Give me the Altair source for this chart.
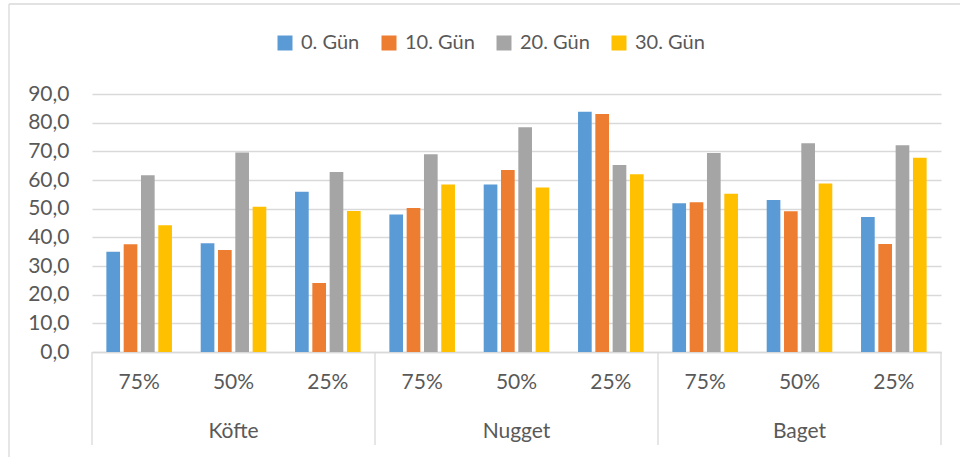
import altair as alt
import pandas as pd

groups = ["Köfte", "Nugget", "Baget"]
subs = ["75%", "50%", "25%"]
series = ["0. Gün", "10. Gün", "20. Gün", "30. Gün"]
colors = ["#5B9BD5", "#ED7D31", "#A5A5A5", "#FFC000"]

gun0 = [35.0, 37.9, 55.9, 48.0, 58.4, 83.8, 51.9, 53.0, 47.1]
gun10 = [37.6, 35.6, 24.1, 50.2, 63.5, 83.0, 52.2, 49.1, 37.7]
gun20 = [61.7, 69.6, 62.8, 69.0, 78.4, 65.2, 69.4, 72.8, 72.1]
gun30 = [44.2, 50.7, 49.2, 58.4, 57.4, 62.0, 55.2, 58.8, 67.8]
y_ticks = [0, 10, 20, 30, 40, 50, 60, 70, 80, 90]

cats = [f"{g}|{s}" for g in groups for s in subs]
rows = []
for name, vals in zip(series, [gun0, gun10, gun20, gun30]):
    for c, v in zip(cats, vals):
        rows.append({"cat": c, "series": name, "value": v})
df = pd.DataFrame(rows)

FONT = "Lato"
TXT = "#595959"
GRID = "#D9D9D9"
W, H = 849, 258

xscale = alt.Scale(domain=cats, paddingInner=0, paddingOuter=0)

bars = alt.Chart(df).mark_bar().encode(
    x=alt.X("cat:N", scale=xscale, sort=cats, title=None,
            axis=alt.Axis(labelExpr="split(datum.label, '|')[1]", labelAngle=0,
                          labelFont=FONT, labelFontSize=21, labelColor=TXT,
                          labelPadding=19, ticks=False, domainColor=GRID,
                          domainWidth=1.3, grid=False)),
    xOffset=alt.XOffset("series:N", sort=series,
                        scale=alt.Scale(paddingInner=0.21, paddingOuter=0.83)),
    y=alt.Y("value:Q", scale=alt.Scale(domain=[0, 90], nice=False), title=None,
            axis=alt.Axis(values=y_ticks,
                          labelExpr="replace(format(datum.value, '.1f'), '.', ',')",
                          labelFont=FONT, labelFontSize=21, labelColor=TXT,
                          labelPadding=23, ticks=False, domain=False,
                          gridColor=GRID, gridWidth=1.3)),
    color=alt.Color("series:N", sort=series,
                    scale=alt.Scale(domain=series, range=colors),
                    legend=alt.Legend(orient="none", legendX=183, legendY=-61,
                                      direction="horizontal", title=None,
                                      symbolType="square", symbolSize=225,
                                      symbolStrokeWidth=0, labelFont=FONT,
                                      labelFontSize=20, labelColor=TXT,
                                      labelOffset=6, columnPadding=19)),
)

gdf = pd.DataFrame({"cat": [f"{g}|{subs[1]}" for g in groups], "label": groups})
glabels = alt.Chart(gdf).mark_text(font=FONT, fontSize=21, color=TXT, baseline="middle").encode(
    x=alt.X("cat:N", scale=xscale, sort=cats),
    y=alt.value(338),
    text="label:N",
)

sdf_left = pd.DataFrame({"cat": [f"{g}|{subs[0]}" for g in groups]})
sep_left = alt.Chart(sdf_left).mark_rule(color=GRID, strokeWidth=1.3).encode(
    x=alt.X("cat:N", scale=xscale, sort=cats, bandPosition=0),
    y=alt.value(258), y2=alt.value(351),
)
sdf_right = pd.DataFrame({"cat": [cats[-1]]})
sep_right = alt.Chart(sdf_right).mark_rule(color=GRID, strokeWidth=1.3).encode(
    x=alt.X("cat:N", scale=xscale, sort=cats, bandPosition=1),
    y=alt.value(258), y2=alt.value(351),
)

border_top = alt.Chart(pd.DataFrame({"a": [0]})).mark_rule(color=GRID, strokeWidth=1.3).encode(
    x=alt.value(-83), x2=alt.value(868), y=alt.value(-90)
)
border_left = alt.Chart(pd.DataFrame({"a": [0]})).mark_rule(color=GRID, strokeWidth=1.3).encode(
    x=alt.value(-83), y=alt.value(-90), y2=alt.value(363)
)

chart = alt.layer(bars, glabels, sep_left, sep_right, border_top, border_left).properties(
    width=W, height=H,
    autosize=alt.AutoSizeParams(type="none"),
    padding={"left": 92, "top": 94, "right": 19, "bottom": 105},
    background="white",
).configure_view(stroke=None)

chart.save("out.html", embed_options={"renderer": "svg", "actions": False})
